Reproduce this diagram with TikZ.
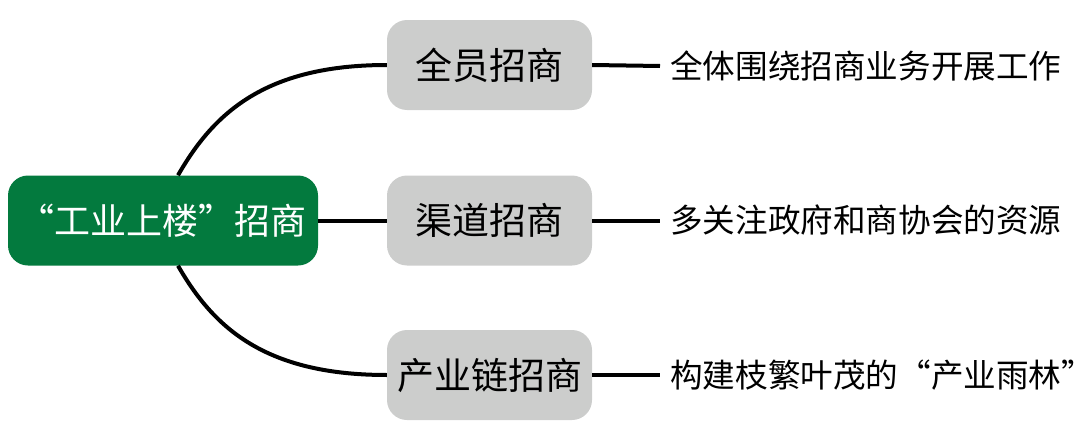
\documentclass[tikz,border=0pt]{standalone}
\usepackage{fontspec}
\setmainfont{Noto Sans CJK SC}
\usetikzlibrary{calc}
\definecolor{rootgreen}{RGB}{3,122,62}
\definecolor{boxgray}{RGB}{204,205,204}
\tikzset{
  rootbox/.style={rectangle, rounded corners=20pt, fill=rootgreen, text=white,
    minimum width=310pt, minimum height=90pt, inner sep=0pt, font=\fontsize{36pt}{40pt}\selectfont},
  branchbox/.style={rectangle, rounded corners=20pt, fill=boxgray, text=black,
    minimum width=205pt, minimum height=90pt, inner sep=0pt, font=\fontsize{37pt}{40pt}\selectfont},
  desc/.style={anchor=west, inner xsep=10pt, inner ysep=0pt, text=black, font=\fontsize{32.6pt}{36pt}\selectfont},
  link/.style={draw=black, line width=4pt}
}
\begin{document}
\begin{tikzpicture}[x=1pt,y=-1pt]
\useasboundingbox (0,0) rectangle (1080,447);
\node[rootbox] (root) at (163,220.5) {“工业上楼”招商};
\node[branchbox] (b1) at (489.5,65) {全员招商};
\node[branchbox] (b2) at (489.5,220.5) {渠道招商};
\node[branchbox] (b3) at (489.5,375) {产业链招商};
\node[desc] (t1) at (660,66) {全体围绕招商业务开展工作};
\node[desc] (t2) at (660,220.5) {多关注政府和商协会的资源};
\node[desc] (t3) at (660,375) {构建枝繁叶茂的“产业雨林”};
\coordinate (rt) at ([xshift=15pt]root.north);
\coordinate (rb) at ([xshift=15pt]root.south);
\draw[link] (rt) .. controls ($(rt)+(35,-61)$) and ($(b1.west)+(-123,0)$) .. (b1.west);
\draw[link] (rb) .. controls ($(rb)+(35,61)$) and ($(b3.west)+(-123,0)$) .. (b3.west);
\draw[link] (root.east) -- (b2.west);
\draw[link] (b1.east) -- (t1.west);
\draw[link] (b2.east) -- (t2.west);
\draw[link] (b3.east) -- (t3.west);
\end{tikzpicture}
\end{document}
